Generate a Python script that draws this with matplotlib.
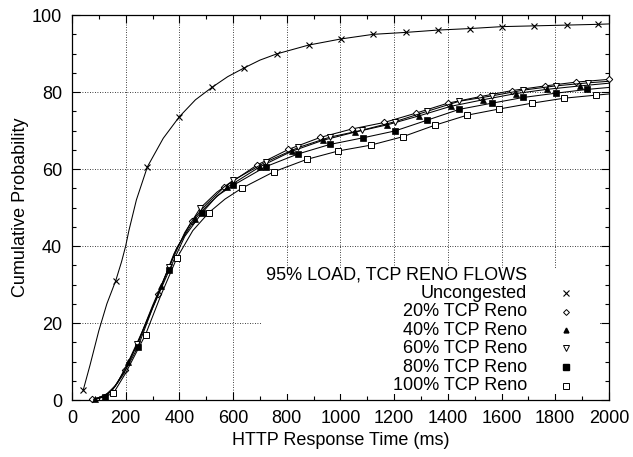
import matplotlib
matplotlib.use("Agg")
import matplotlib.pyplot as plt
from matplotlib.patches import Rectangle
from matplotlib.ticker import MultipleLocator

plt.rcParams["font.family"] = ["Liberation Sans", "DejaVu Sans"]
plt.rcParams["font.size"] = 13

# ---- data ----
unc_x = [42, 67, 100, 130, 163, 185, 200, 212, 240, 281, 340, 400, 460, 521, 580, 642,
         700, 762, 881, 1002, 1122, 1243, 1362, 1482, 1601, 1722, 1842, 1961, 2000]
unc_y = [2.6, 9.0, 18.0, 25.0, 31.0, 36.0, 40.0, 44.0, 52.0, 60.6, 68.0, 73.6, 78.0, 81.2,
         84.0, 86.3, 88.3, 89.9, 92.2, 93.8, 95.0, 95.5, 96.1, 96.5, 97.0, 97.2, 97.4, 97.6, 97.7]
unc_mk = [0, 4, 9, 11, 13, 15, 17, 18, 19, 20, 21, 22, 23, 24, 25, 26, 27]

r20_x = [73, 100, 130, 160, 197, 250, 321, 380, 446, 500, 567, 688, 806, 924, 1042, 1163,
         1280, 1399, 1519, 1640, 1762, 1879, 2000]
r20_y = [0.2, 0.6, 1.5, 3.5, 7.8, 15.5, 27.5, 38.0, 46.5, 50.8, 55.3, 61.0, 65.1, 68.2, 70.4,
         72.1, 74.5, 77.1, 78.8, 80.4, 81.6, 82.6, 83.3]
r20_mk = [0, 4, 6, 8, 10, 11, 12, 13, 14, 15, 16, 17, 18, 19, 20, 21, 22]

r40_x = [85, 110, 140, 170, 209, 260, 333, 390, 458, 510, 579, 700, 818, 936, 1054, 1175,
         1292, 1411, 1531, 1652, 1768, 1892, 2000]
r40_y = [0.3, 0.8, 2.0, 4.5, 9.8, 17.5, 29.5, 39.5, 47.0, 51.0, 55.3, 60.6, 64.6, 67.5, 69.6,
         71.5, 73.8, 76.3, 78.0, 79.6, 80.7, 81.6, 82.3]
r40_mk = [0, 4, 6, 8, 10, 11, 12, 13, 14, 15, 16, 17, 18, 19, 20, 21]

r60_x = [80, 100, 130, 160, 200, 243, 300, 362, 420, 477, 540, 601, 721, 843, 961, 1081, 1203,
         1323, 1442, 1563, 1681, 1801, 1922, 2000]
r60_y = [0.2, 0.6, 1.6, 3.6, 8.0, 14.5, 24.5, 34.6, 43.5, 49.8, 54.0, 57.1, 61.8, 65.6, 68.3,
         70.1, 72.3, 75.0, 77.6, 79.0, 80.5, 81.6, 82.4, 82.8]
r60_mk = [5, 7, 9, 11, 12, 13, 14, 15, 16, 17, 18, 19, 20, 21, 22]

r80_x = [90, 123, 150, 190, 245, 300, 362, 420, 483, 540, 601, 721, 841, 961, 1083, 1203, 1323,
         1442, 1563, 1681, 1801, 1920, 2000]
r80_y = [0.3, 0.9, 2.5, 6.5, 13.7, 23.8, 33.7, 42.5, 48.5, 53.0, 55.8, 60.6, 63.9, 66.4, 68.1,
         69.9, 72.7, 75.5, 77.1, 78.6, 79.7, 80.7, 81.2]
r80_mk = [1, 4, 6, 8, 10, 11, 12, 13, 14, 15, 16, 17, 18, 19, 20, 21]

r100_x = [100, 154, 200, 274, 330, 390, 450, 510, 570, 632, 752, 874, 992, 1112, 1232, 1352,
          1472, 1591, 1712, 1832, 1951, 2000]
r100_y = [0.4, 1.7, 7.0, 17.0, 27.0, 36.8, 44.0, 48.7, 52.2, 55.0, 59.3, 62.5, 64.7, 66.2, 68.4,
          71.4, 74.0, 75.6, 77.1, 78.4, 79.2, 79.5]
r100_mk = [1, 3, 5, 7, 9, 10, 11, 12, 13, 14, 15, 16, 17, 18, 19, 20]

labels = ["Uncongested", "20% TCP Reno", "40% TCP Reno", "60% TCP Reno",
          "80% TCP Reno", "100% TCP Reno"]

series = [
    (unc_x, unc_y, unc_mk, dict(marker="x", ms=5, mfc="black", mew=0.8)),
    (r20_x, r20_y, r20_mk, dict(marker="D", ms=3.3, mfc="white", mew=0.7)),
    (r40_x, r40_y, r40_mk, dict(marker="^", ms=4, mfc="black", mew=0.5)),
    (r60_x, r60_y, r60_mk, dict(marker="v", ms=4.8, mfc="white", mew=0.7)),
    (r80_x, r80_y, r80_mk, dict(marker="s", ms=4.5, mfc="black", mew=0.5)),
    (r100_x, r100_y, r100_mk, dict(marker="s", ms=5, mfc="white", mew=0.7)),
]

fig = plt.figure(figsize=(6.33, 4.57), dpi=100)
ax = fig.add_axes([0.1137, 0.1247, 0.8483, 0.8423])

ax.set_xlim(0, 2000)
ax.set_ylim(0, 100)
ax.xaxis.set_major_locator(MultipleLocator(200))
ax.xaxis.set_minor_locator(MultipleLocator(100))
ax.yaxis.set_major_locator(MultipleLocator(20))
ax.yaxis.set_minor_locator(MultipleLocator(5))
ax.tick_params(which="both", direction="in", top=True, right=True, width=0.8)
ax.tick_params(which="major", length=6, pad=7)
ax.tick_params(which="minor", length=3)
for s in ax.spines.values():
    s.set_linewidth(0.9)

ax.set_axisbelow(True)
ax.grid(True, which="major", color="black", linestyle=(0, (1, 2)), linewidth=0.6)

# opaque key box (hides the grid behind it)
ax.add_patch(Rectangle((0.354, 0.015), 0.629, 0.328, transform=ax.transAxes,
                       facecolor="white", edgecolor="none", zorder=1))

for (xs, ys, mk, st) in series:
    ax.plot(xs, ys, color="black", lw=0.75, markevery=mk, mec="black",
            clip_on=False, zorder=3, **st)

# key
ax.text(0.847, 0.325, "95% LOAD, TCP RENO FLOWS", transform=ax.transAxes,
        ha="right", va="center", zorder=4)
rows = [0.278, 0.229, 0.181, 0.134, 0.085, 0.037]
key_styles = [dict(marker="x", ms=4, mew=0.8), dict(marker="D", ms=3, mfc="white", mew=0.7),
              dict(marker="^", ms=3.5, mfc="black"), dict(marker="v", ms=4, mfc="white", mew=0.7),
              dict(marker="s", ms=3.8, mfc="black"), dict(marker="s", ms=4, mfc="white", mew=0.7)]
for lab, yy, st in zip(labels, rows, key_styles):
    ax.text(0.847, yy, lab, transform=ax.transAxes, ha="right", va="center", zorder=4)
    ax.plot([0.92], [yy], transform=ax.transAxes, color="black", mec="black",
            linestyle="none", zorder=4, **st)

ax.set_xlabel("HTTP Response Time (ms)", labelpad=4)
ax.set_ylabel("Cumulative Probability", labelpad=2)

fig.savefig("out.png", dpi=100)
